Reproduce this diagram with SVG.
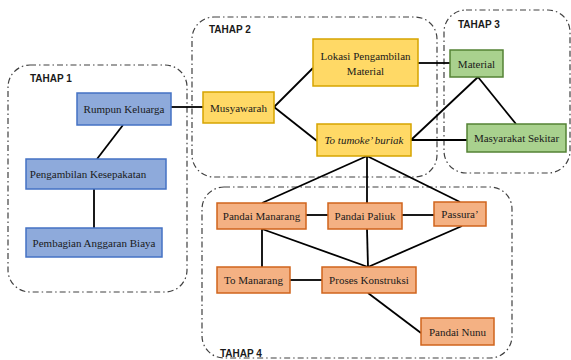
<svg xmlns="http://www.w3.org/2000/svg" width="571" height="360" viewBox="0 0 571 360">
<style>
.stage{fill:none;stroke:#404040;stroke-width:1.2;stroke-dasharray:6 3 1.5 3}
.lbl{font-family:"Liberation Sans",Arial,sans-serif;font-weight:bold;font-size:10px;fill:#1a1a1a}
.t{font-family:"Liberation Serif","Times New Roman",serif;font-size:11px;fill:#1a1a1a;text-anchor:middle;dominant-baseline:central}
.blue{fill:#8eaadb;stroke:#4472c4;stroke-width:1.5}
.yel{fill:#ffd966;stroke:#d6a400;stroke-width:1.5}
.grn{fill:#a9d18e;stroke:#548235;stroke-width:1.5}
.org{fill:#f4b183;stroke:#d0641c;stroke-width:1.5}
.c{stroke:#000;stroke-width:1.8;fill:none}
</style>
<rect width="571" height="360" fill="#fff"/>
<g id="stages">
<rect class="stage" x="8" y="65" width="179" height="227" rx="22"/>
<text class="lbl" x="30" y="82">TAHAP 1</text>
<rect class="stage" x="192" y="17" width="245" height="160" rx="22"/>
<text class="lbl" x="209" y="33">TAHAP 2</text>
<rect class="stage" x="444" y="10" width="126" height="163" rx="22"/>
<text class="lbl" x="458" y="28">TAHAP 3</text>
<rect class="stage" x="202" y="187" width="310" height="171" rx="22"/>
<text class="lbl" x="220" y="357">TAHAP 4</text>
</g>
<g id="connectors">
<line class="c" x1="171" y1="107" x2="203" y2="107"/>
<line class="c" x1="123" y1="125" x2="97" y2="159"/>
<line class="c" x1="94" y1="189" x2="94" y2="228"/>
<line class="c" x1="274" y1="107" x2="313" y2="68"/>
<line class="c" x1="274" y1="107" x2="317" y2="141"/>
<line class="c" x1="418" y1="63" x2="450" y2="63"/>
<line class="c" x1="411" y1="140" x2="467" y2="140"/>
<line class="c" x1="411" y1="140" x2="478" y2="77"/>
<line class="c" x1="478" y1="77" x2="516" y2="124"/>
<line class="c" x1="367" y1="156" x2="262" y2="203"/>
<line class="c" x1="367" y1="156" x2="367" y2="203"/>
<line class="c" x1="367" y1="156" x2="460" y2="202"/>
<line class="c" x1="306" y1="215" x2="328" y2="215"/>
<line class="c" x1="402" y1="215" x2="434" y2="215"/>
<line class="c" x1="262" y1="229" x2="262" y2="267"/>
<line class="c" x1="262" y1="229" x2="368" y2="267"/>
<line class="c" x1="367" y1="229" x2="368" y2="267"/>
<line class="c" x1="462" y1="226" x2="368" y2="267"/>
<line class="c" x1="290" y1="280" x2="322" y2="280"/>
<line class="c" x1="368" y1="293" x2="421" y2="333"/>
</g>
<g id="rumpun"><rect class="blue" x="77" y="93" width="94" height="32"/><text class="t" x="124" y="109">Rumpun Keluarga</text></g>
<g id="pengambilan"><rect class="blue" x="26" y="159" width="140" height="30"/><text class="t" x="88" y="174">Pengambilan Kesepakatan</text></g>
<g id="pembagian"><rect class="blue" x="26" y="228" width="136" height="29"/><text class="t" x="94" y="243">Pembagian Anggaran Biaya</text></g>
<g id="musyawarah"><rect class="yel" x="203" y="92" width="71" height="31"/><text class="t" x="238.5" y="107.5">Musyawarah</text></g>
<g id="lokasi"><rect class="yel" x="313" y="39" width="105" height="47"/><text class="t" x="365.5" y="56">Lokasi Pengambilan</text><text class="t" x="365.5" y="71">Material</text></g>
<g id="totumoke"><rect class="yel" x="317" y="124" width="94" height="32"/><text class="t" x="364" y="140" font-style="italic">To tumoke’ buriak</text></g>
<g id="material"><rect class="grn" x="450" y="50" width="53" height="27"/><text class="t" x="476.5" y="63.5">Material</text></g>
<g id="masyarakat"><rect class="grn" x="467" y="124" width="99" height="28"/><text class="t" x="516.5" y="138">Masyarakat Sekitar</text></g>
<g id="pandaimanarang"><rect class="org" x="217" y="203" width="89" height="26"/><text class="t" x="261.5" y="216">Pandai Manarang</text></g>
<g id="pandaipaliuk"><rect class="org" x="328" y="203" width="74" height="26"/><text class="t" x="365" y="216">Pandai Paliuk</text></g>
<g id="passura"><rect class="org" x="434" y="202" width="52" height="24"/><text class="t" x="460" y="214">Passura’</text></g>
<g id="tomanarang"><rect class="org" x="217" y="267" width="73" height="26"/><text class="t" x="253.5" y="280">To Manarang</text></g>
<g id="proses"><rect class="org" x="322" y="267" width="94" height="26"/><text class="t" x="369" y="280">Proses Konstruksi</text></g>
<g id="pandainunu"><rect class="org" x="421" y="318" width="73" height="27"/><text class="t" x="457.5" y="331.5">Pandai Nunu</text></g>
</svg>
